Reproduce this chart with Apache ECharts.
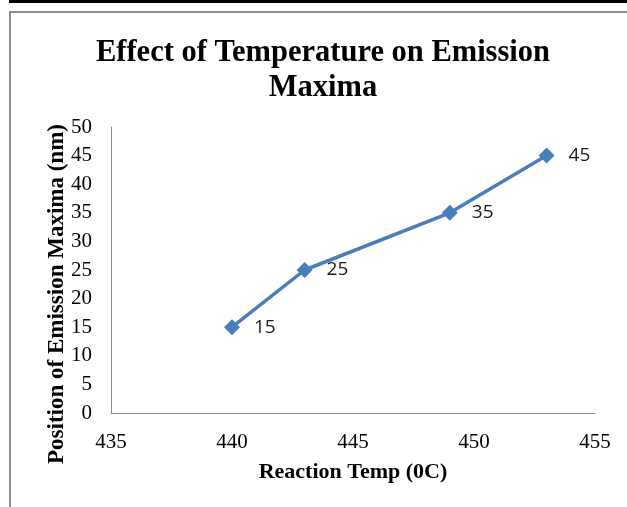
<!DOCTYPE html>
<html>
<head>
<meta charset="utf-8">
<style>
  html, body { margin: 0; padding: 0; background: #fff; }
  #chart { width: 627px; height: 507px; }
</style>
<script src="https://cdn.jsdelivr.net/npm/echarts@6/dist/echarts.min.js"></script>
</head>
<body>
<div id="chart"></div>
<script>
// Reaction temperature (°C) vs. position of emission maximum (nm)
const reactionTemp = [440, 443, 449, 453];
const emissionMax = [15, 25, 35, 45];
const xTicks = { min: 435, max: 455, step: 5 };
const yTicks = { min: 0, max: 50, step: 5 };
const titleText = 'Effect of Temperature on Emission\nMaxima';
const xTitle = 'Reaction Temp (0C)';
const yTitle = 'Position of Emission Maxima (nm)';

const serif = '"Liberation Serif", "Times New Roman", serif';

const chart = echarts.init(document.getElementById('chart'), null, { renderer: 'canvas' });

chart.setOption({
  backgroundColor: '#fff',
  animation: false,
  graphic: [
    // heavy rule across the top edge
    { type: 'rect', shape: { x: 9, y: 0, width: 618, height: 3 }, style: { fill: '#000' } },
    // frame around the chart area
    { type: 'polyline', shape: { points: [[10, 520], [10, 12], [640, 12]] },
      style: { stroke: '#8c8c8c', lineWidth: 2, fill: null } },
    // chart title, two centred lines
    { type: 'text', x: 323, y: 36,
      style: { text: titleText, font: 'bold 30.5px ' + serif, lineHeight: 35, fill: '#000',
               align: 'center', verticalAlign: 'top' } },
    // axis titles
    { type: 'text', x: 353, y: 472,
      style: { text: xTitle, font: 'bold 22px ' + serif, fill: '#000',
               align: 'center', verticalAlign: 'middle' } },
    { type: 'text', x: 57, y: 294, rotation: Math.PI / 2,
      style: { text: yTitle, font: 'bold 23px ' + serif, fill: '#000',
               align: 'center', verticalAlign: 'middle' } }
  ],
  grid: { left: 111, right: 32, top: 127, bottom: 94 },
  xAxis: {
    type: 'value',
    min: xTicks.min,
    max: xTicks.max,
    interval: xTicks.step,
    axisLine: { show: true, lineStyle: { color: '#8c8c8c', width: 1 } },
    axisTick: { show: false },
    splitLine: { show: false },
    axisLabel: { fontFamily: serif, fontSize: 21, color: '#000', margin: 19 }
  },
  yAxis: {
    type: 'value',
    min: yTicks.min,
    max: yTicks.max,
    interval: yTicks.step,
    axisLine: { show: true, lineStyle: { color: '#8c8c8c', width: 1 } },
    axisTick: { show: false },
    splitLine: { show: false },
    axisLabel: { fontFamily: serif, fontSize: 21, color: '#000', margin: 19 }
  },
  series: [{
    type: 'line',
    data: reactionTemp.map((t, i) => [t, emissionMax[i]]),
    symbol: 'diamond',
    symbolSize: 16,
    itemStyle: { color: '#4a7ebb' },
    lineStyle: { color: '#4a7ebb', width: 3.5 },
    label: {
      show: true,
      position: 'right',
      distance: 14,
      formatter: p => String(p.value[1]),
      fontFamily: '"Open Sans", "DejaVu Sans", sans-serif',
      fontSize: 19,
      color: '#1a1a1a'
    }
  }]
});
</script>
</body>
</html>
